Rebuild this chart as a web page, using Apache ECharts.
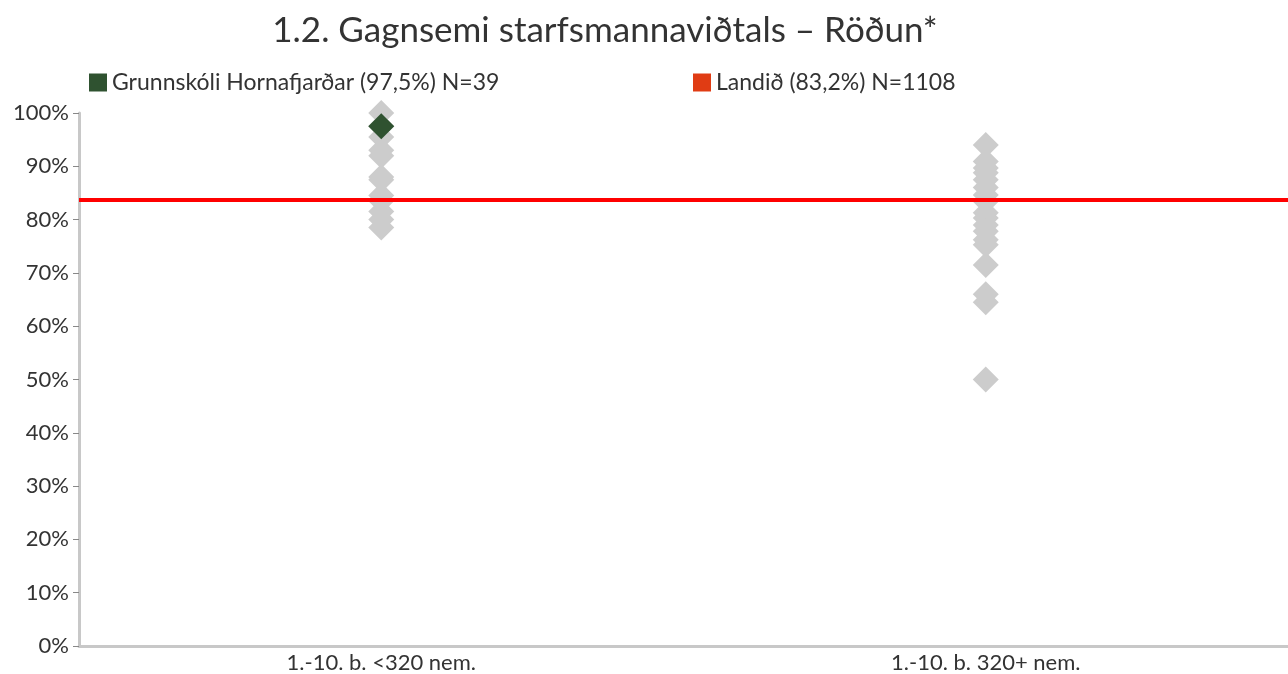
<!DOCTYPE html>
<html>
<head>
<meta charset="utf-8">
<script src="https://cdn.jsdelivr.net/npm/echarts@6/dist/echarts.min.js"></script>
<style>
  html, body { margin: 0; padding: 0; background: #fff; }
  #chart { width: 1288px; height: 674px; }
</style>
</head>
<body>
<div id="chart"></div>
<script>
const categories = ["1.-10. b. <320 nem.", "1.-10. b. 320+ nem."];
// gráir tíglar: aðrir skólar í hvorum flokki
const smallSchools = [100, 97.5, 95.5, 93, 92, 88, 87.5, 84.5, 83.5, 81.5, 80, 78.5];
const largeSchools = [94, 90.9, 89.7, 88.8, 87.5, 86, 84.6, 83.4, 81.3, 80.3, 79, 77.8, 76.2, 75.3, 71.5, 66, 64.5, 50];
const schoolValue = 97.5;
const countryLine = 83.7;
const yTicks = [0, 10, 20, 30, 40, 50, 60, 70, 80, 90, 100];

const font = "Lato, 'Open Sans', sans-serif";
const schoolName = "Grunnskóli Hornafjarðar (97,5%) N=39";
const countryName = "Landið (83,2%) N=1108";

let greyData = [];
smallSchools.forEach(v => greyData.push([categories[0], v]));
largeSchools.forEach(v => greyData.push([categories[1], v]));

let myECharts = echarts.init(document.getElementById("chart"));
let option = {
  animation: false,
  title: {
    text: "1.2. Gagnsemi starfsmannaviðtals – Röðun*",
    left: 600,
    textAlign: "center",
    top: 8,
    textStyle: { color: "#333", fontWeight: "normal", fontSize: 35, fontFamily: font }
  },
  legend: [
    {
      left: 84,
      top: 66,
      itemWidth: 18,
      itemHeight: 18,
      icon: "rect",
      textStyle: { color: "#333", fontSize: 23, fontFamily: font },
      data: [{ name: schoolName, itemStyle: { color: "#2f5230", opacity: 1 } }]
    },
    {
      left: 688,
      top: 66,
      itemWidth: 18,
      itemHeight: 18,
      icon: "rect",
      textStyle: { color: "#333", fontSize: 23, fontFamily: font },
      data: [{ name: countryName, itemStyle: { color: "#e03c14", opacity: 1 } }]
    }
  ],
  grid: { left: 79, right: 0, top: 113, bottom: 27 },
  xAxis: {
    type: "category",
    data: categories,
    axisTick: { show: false },
    axisLine: { lineStyle: { color: "#c8c8c8", width: 3 } },
    axisLabel: { color: "#333", fontSize: 22, fontFamily: font, margin: 6 }
  },
  yAxis: {
    type: "value",
    min: 0,
    max: 100,
    interval: 10,
    splitLine: { show: false },
    axisLine: { show: true, lineStyle: { color: "#c8c8c8", width: 3 } },
    axisTick: { show: true, length: 6, lineStyle: { color: "#888" } },
    axisLabel: {
      color: "#333", fontSize: 22, fontFamily: font, margin: 10,
      formatter: v => yTicks.indexOf(v) >= 0 ? v + "%" : ""
    }
  },
  series: [
    {
      name: "Aðrir",
      type: "scatter",
      symbol: "diamond",
      symbolSize: 26,
      itemStyle: { color: "#cccccc", opacity: 1 },
      data: greyData,
      z: 2
    },
    {
      name: countryName,
      type: "scatter",
      data: [],
      itemStyle: { color: "#e03c14", opacity: 1 },
      markLine: {
        silent: true,
        symbol: ["none", "none"],
        label: { show: false },
        lineStyle: { color: "#ff0000", width: 4, type: "solid", opacity: 1 },
        data: [{ yAxis: countryLine }]
      },
      z: 3
    },
    {
      name: schoolName,
      type: "scatter",
      symbol: "diamond",
      symbolSize: 26,
      itemStyle: { color: "#2f5230", opacity: 1 },
      data: [[categories[0], schoolValue]],
      z: 4
    }
  ]
};
myECharts.setOption(option);
</script>
</body>
</html>
